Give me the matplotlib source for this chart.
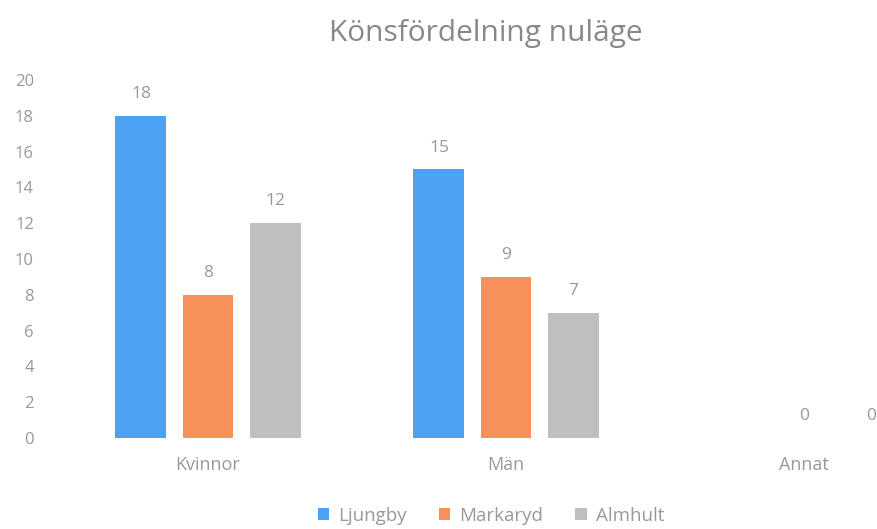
import matplotlib.pyplot as plt
import numpy as np

# ─── data ───────────────────────────────
categories = ["Kvinnor", "Män", "Annat"]
series_names = ["Ljungby", "Markaryd", "Almhult"]
ljungby = [18, 15, None]
markaryd = [8, 9, 0]
almhult = [12, 7, 0]
yticks = [0, 2, 4, 6, 8, 10, 12, 14, 16, 18, 20]

colors = ["#4BA2F2", "#F7905A", "#BFBFBF"]
text_gray = "#999999"

plt.rcParams['font.family'] = ['Open Sans', 'DejaVu Sans']

fig = plt.figure(figsize=(8.77, 5.29), dpi=100)
W, H = 877, 529
# plot area in pixels: left 59, y0 at 438, y20 at 80
ax = fig.add_axes([59 / W, (H - 438) / H, (W - 59) / W, (438 - 80) / H])

x = np.arange(len(categories))
width = 0.171
offset = 0.225
all_series = [ljungby, markaryd, almhult]
for i, (name, vals) in enumerate(zip(series_names, all_series)):
    xs = x + (i - 1) * offset
    heights = [v if v is not None else 0 for v in vals]
    ax.bar(xs, heights, width, color=colors[i], label=name)
    for xi, v in zip(xs, vals):
        if v is None:
            continue
        ax.annotate(str(v), (xi, v), xytext=(0, 10), textcoords='offset points',
                    ha='center', va='bottom', fontsize=12.5, color=text_gray)

ax.set_xlim(-0.5, 2.245)
ax.set_ylim(0, 20)
ax.set_yticks(yticks)
ax.set_xticks(x)
ax.set_xticklabels(categories, fontsize=13)
ax.tick_params(axis='both', length=0, colors=text_gray)
ax.tick_params(axis='y', labelsize=12, pad=18)
ax.tick_params(axis='x', pad=13)
for s in ax.spines.values():
    s.set_visible(False)

fig.text(486 / W, 1 - 33 / H, "Könsfördelning nuläge", ha='center', va='center',
         fontsize=21.5, color="#888888")

fig.legend(loc='center', bbox_to_anchor=(491 / W, 1 - 516 / H), ncol=3, frameon=False,
           fontsize=13.5, labelcolor=text_gray, handlelength=0.6, handleheight=0.6,
           handletextpad=0.5, columnspacing=1.7)

plt.savefig('out.png', dpi=100)
